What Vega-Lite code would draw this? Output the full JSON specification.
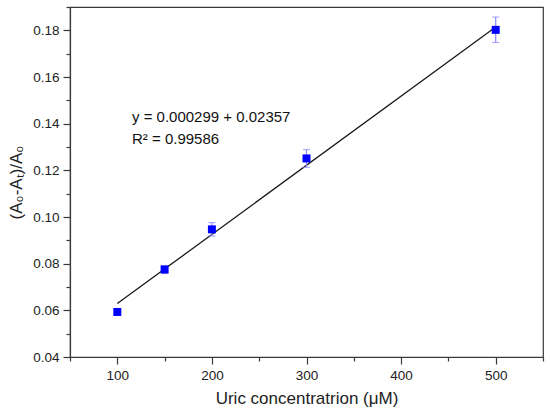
{
  "$schema": "https://vega.github.io/schema/vega-lite/v6.json",
  "width": 473,
  "height": 350,
  "autosize": {"type": "none"},
  "padding": {"left": 70, "top": 7, "right": 7, "bottom": 58},
  "background": "white",
  "config": {
    "font": "Liberation Sans",
    "view": {"stroke": "#3a3a3a", "strokeWidth": 1.2},
    "axis": {
      "domainColor": "#3a3a3a",
      "domainWidth": 1.2,
      "tickColor": "#3a3a3a",
      "tickWidth": 1.2,
      "grid": false,
      "labelFont": "Liberation Sans",
      "labelFontSize": 13.5,
      "labelColor": "#222",
      "titleFont": "Liberation Sans",
      "titleFontSize": 17,
      "titleFontWeight": "normal",
      "titleColor": "#222"
    }
  },
  "datasets": {
    "points": [
      {"conc": 100, "ratio": 0.0593, "lo": 0.0583, "hi": 0.0603},
      {"conc": 150, "ratio": 0.0775, "lo": 0.0758, "hi": 0.0792},
      {"conc": 200, "ratio": 0.0947, "lo": 0.0919, "hi": 0.0976},
      {"conc": 300, "ratio": 0.1251, "lo": 0.1213, "hi": 0.1289},
      {"conc": 500, "ratio": 0.1802, "lo": 0.1748, "hi": 0.1857}
    ],
    "fit": [
      {"conc": 100, "ratio": 0.0629},
      {"conc": 500, "ratio": 0.1814}
    ],
    "notes": [
      {"conc": 115.5, "ratio": 0.1429, "text": "y = 0.000299 + 0.02357"},
      {"conc": 115.5, "ratio": 0.1336, "text": "R² = 0.99586"}
    ]
  },
  "encoding": {
    "x": {
      "field": "conc",
      "type": "quantitative",
      "scale": {"domain": [50, 550], "nice": false, "zero": false},
      "axis": {
        "title": "Uric concentratrion (μM)",
        "values": [50, 100, 150, 200, 250, 300, 350, 400, 450, 500, 550],
        "labelExpr": "datum.value % 100 === 0 && datum.value >= 100 && datum.value <= 500 ? datum.label : ''",
        "tickSize": {"condition": {"test": "datum.value % 100 === 0", "value": 7}, "value": 4},
        "labelPadding": 4,
        "titlePadding": 9,
        "labelFlush": false
      }
    },
    "y": {
      "field": "ratio",
      "type": "quantitative",
      "scale": {"domain": [0.04, 0.19], "nice": false, "zero": false},
      "axis": {
        "title": "(A₀-Aₜ)/A₀",
        "values": [0.04, 0.05, 0.06, 0.07, 0.08, 0.09, 0.10, 0.11, 0.12, 0.13, 0.14, 0.15, 0.16, 0.17, 0.18, 0.19],
        "labelExpr": "round(datum.value * 100) % 2 === 0 && datum.value < 0.185 ? format(datum.value, '.2f') : ''",
        "tickSize": {"condition": {"test": "round(datum.value * 100) % 2 === 0", "value": 7}, "value": 4},
        "labelPadding": 4,
        "titlePadding": 7,
        "labelFlush": false
      }
    }
  },
  "layer": [
    {
      "data": {"name": "fit"},
      "mark": {"type": "line", "color": "#1a1a1a", "strokeWidth": 1.3},
      "encoding": {}
    },
    {
      "data": {"name": "points"},
      "mark": {"type": "rule", "color": "#8a8aff", "strokeWidth": 1.2},
      "encoding": {"y": {"field": "lo", "type": "quantitative"}, "y2": {"field": "hi"}}
    },
    {
      "data": {"name": "points"},
      "mark": {"type": "tick", "color": "#8a8aff", "orient": "horizontal", "size": 7, "thickness": 1.2},
      "encoding": {"y": {"field": "lo", "type": "quantitative"}}
    },
    {
      "data": {"name": "points"},
      "mark": {"type": "tick", "color": "#8a8aff", "orient": "horizontal", "size": 7, "thickness": 1.2},
      "encoding": {"y": {"field": "hi", "type": "quantitative"}}
    },
    {
      "data": {"name": "points"},
      "mark": {"type": "square", "color": "#0000ff", "filled": true, "opacity": 1, "size": 64},
      "encoding": {}
    },
    {
      "data": {"name": "notes"},
      "mark": {"type": "text", "align": "left", "baseline": "middle", "fontSize": 15, "font": "Liberation Sans", "color": "#111"},
      "encoding": {"text": {"field": "text"}}
    }
  ]
}
